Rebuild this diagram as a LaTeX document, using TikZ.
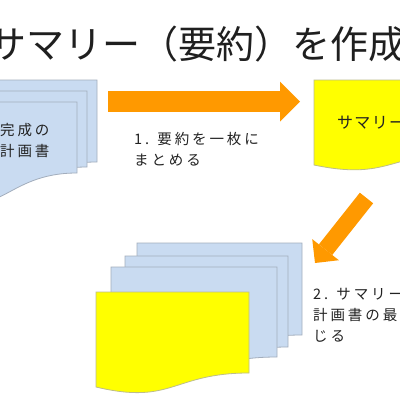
\documentclass[tikz,border=0pt]{standalone}
\usepackage{fontspec}
\setmainfont{Noto Sans CJK JP}
\newfontfamily\jplbl[LetterSpace=20]{Noto Sans CJK JP}
\newfontfamily\jpsum[LetterSpace=8]{Noto Sans CJK JP}
\usetikzlibrary{arrows.meta}
\definecolor{cSheet}{HTML}{C9DBF1}
\definecolor{cSheetB}{HTML}{A3AEBD}
\definecolor{cSum}{HTML}{FFFF00}
\definecolor{cSumB}{HTML}{BDBD8C}
\definecolor{cArr}{HTML}{FF9900}
\definecolor{cTxt}{HTML}{222222}
\tikzset{
  sheetblue/.style={fill=cSheet, draw=cSheetB, line width=0.8pt},
  sheetyel/.style={fill=cSum, draw=cSumB, line width=0.8pt},
  bigarr/.style n args={3}{draw=cArr, line width=#1,
               -{Triangle[length=#2, width=#3, line width=0pt, fill=cArr]}},
  lbl/.style={inner sep=0pt, align=left, text=cTxt,
              font=\jplbl\fontsize{14.5}{21}\selectfont},
  ttl/.style={inner sep=0pt, text=black!88, font=\fontsize{38}{40}\selectfont},
}
% sheet with a wavy lower edge: x, y (top left), width, right and left depth
\newcommand{\docsheet}[6][]{%
  \draw[#1] (#2,#3) -- (#2+#4,#3) -- (#2+#4,#3+#5)
    .. controls (#2+0.5*#4,#3+#5) and (#2+0.5*#4,#3+2.31*#6-1.31*#5) .. (#2,#3+#6) -- cycle;}

\begin{document}
\begin{tikzpicture}[x=1pt, y=-1pt]
\useasboundingbox (0,0) rectangle (400,400);
\clip (0,0) rectangle (400,400);
\fill[white] (0,0) rectangle (400,400);

\node[ttl, anchor=base west] (title) at (-12,58) {サマリー（要約）を作成};

% plan sheets, top left
\docsheet[sheetblue]{-53}{80}{150}{82}{100}
\docsheet[sheetblue]{-63}{91}{150}{76}{97}
\docsheet[sheetblue]{-73}{102}{150}{71}{94}
\node[lbl, anchor=north west] (plantxt) at (0,123) {完成の\\計画書};

% summary, top right
\docsheet[sheetyel]{314}{80}{150}{73}{85}
\node[lbl, anchor=north west, font=\jpsum\fontsize{16}{20}\selectfont] (sumtxt) at (337,116) {サマリー};

% plan with summary on top, bottom
\docsheet[sheetblue]{137}{243}{165}{92}{107}
\docsheet[sheetblue]{125}{256}{163}{91}{106}
\docsheet[sheetblue]{111}{267}{166}{90}{105}
\docsheet[sheetyel]{96}{292}{153}{81}{95}

% steps
\coordinate (a1from) at (108,101.5);
\coordinate (a1to) at (300,101.5);
\draw[bigarr={21pt}{20pt}{40pt}] (a1from) -- (a1to);
\node[lbl, anchor=north west] (step1) at (134,132) {1. 要約を一枚に\\まとめる};

\coordinate (a2from) at (366.5,198);
\coordinate (a2to) at (315,263);
\draw[bigarr={17pt}{17pt}{34pt}] (a2from) -- (a2to);
\node[lbl, anchor=north west] (step2) at (313,288) {2. サマリー\\計画書の最\\じる};
\end{tikzpicture}
\end{document}
